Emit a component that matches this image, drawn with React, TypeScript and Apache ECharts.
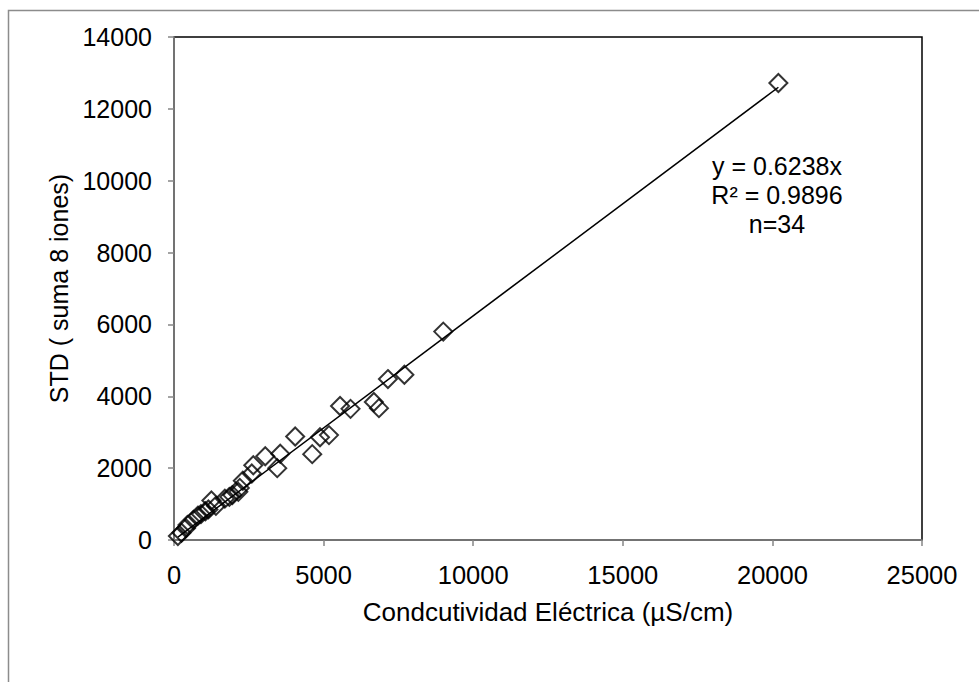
import React, { useEffect, useRef } from "react";
import * as echarts from "echarts";

// Conductividad eléctrica (µS/cm)
const ceValues = [
  20200, 9000, 7700, 7150, 6850, 6680, 5900, 5550, 5180, 4880, 4620, 4050,
  3550, 3450, 3050, 2650, 2600, 2300, 2200, 2150, 1950, 1850, 1700, 1250,
  1400, 1150, 1050, 900, 800, 650, 450, 400, 250, 130,
];
// STD (suma 8 iones)
const stdValues = [
  12720, 5800, 4600, 4480, 3670, 3840, 3650, 3730, 2920, 2860, 2390, 2880,
  2400, 2000, 2330, 2080, 1850, 1650, 1450, 1340, 1250, 1200, 1150, 1100,
  950, 850, 800, 720, 680, 560, 420, 330, 200, 110,
];
// Trendline (regression through origin)
const trendSlope = 0.6238;
const trendRangeX = [130, 20200];
const annotationLines = ["y = 0.6238x", "R² = 0.9896", "n=34"];

const xTicks = { min: 0, max: 25000, interval: 5000 };
const yTicks = { min: 0, max: 14000, interval: 2000 };

const FONT = "'Liberation Sans', Arial, sans-serif";

export default function App() {
  const ref = useRef<HTMLDivElement>(null);
  useEffect(() => {
    if (!ref.current) return;
    const chart = echarts.init(ref.current, null, { renderer: "svg" });
    const points = ceValues.map((x, i) => [x, stdValues[i]]);
    const trend = trendRangeX.map((x) => [x, x * trendSlope]);
    const axisGray = "#868686";
    const fmt = (v: number) => String(v);
    chart.setOption({
      animation: false,
      backgroundColor: "#fff",
      textStyle: { fontFamily: FONT },
      grid: {
        left: 174,
        top: 37,
        right: 57,
        bottom: 142,
        show: true,
        borderColor: "#000",
        borderWidth: 1.5,
        backgroundColor: "transparent",
      },
      xAxis: {
        type: "value",
        min: xTicks.min,
        max: xTicks.max,
        interval: xTicks.interval,
        name: "Condcutividad Eléctrica (µS/cm)",
        nameLocation: "middle",
        nameGap: 59,
        nameTextStyle: { fontSize: 26, color: "#000", fontFamily: FONT },
        axisLine: { show: true, onZero: false, lineStyle: { color: axisGray, width: 1.5 } },
        axisTick: { show: true, inside: false, length: 6, lineStyle: { color: axisGray, width: 1.5 } },
        axisLabel: { fontSize: 25.5, color: "#000", margin: 22, fontFamily: FONT, formatter: fmt },
        splitLine: { show: false },
      },
      yAxis: {
        type: "value",
        min: yTicks.min,
        max: yTicks.max,
        interval: yTicks.interval,
        name: "STD ( suma 8 iones)",
        nameLocation: "middle",
        nameGap: 91,
        nameTextStyle: { fontSize: 25, color: "#000", fontFamily: FONT },
        axisLine: { show: true, onZero: false, lineStyle: { color: axisGray, width: 1.5 } },
        axisTick: { show: true, inside: false, length: 6, lineStyle: { color: axisGray, width: 1.5 } },
        axisLabel: { fontSize: 25, color: "#000", margin: 22, fontFamily: FONT, formatter: fmt },
        splitLine: { show: false },
      },
      series: [
        {
          type: "line",
          data: trend,
          symbol: "none",
          silent: true,
          lineStyle: { color: "#000", width: 1.5 },
          z: 2,
        },
        {
          type: "scatter",
          data: points,
          symbol: "diamond",
          symbolSize: 18,
          itemStyle: { color: "rgba(0,0,0,0)", borderColor: "#000", borderWidth: 2 },
          z: 3,
        },
      ],
      graphic: [
        {
          type: "rect",
          left: 6,
          top: 8,
          shape: { x: 0, y: 0, width: 1200, height: 900 },
          style: { fill: "none", stroke: "#8c8c8c", lineWidth: 1.5 },
          silent: true,
          z: -1,
        },
        ...annotationLines.map((t, i) => ({
          type: "text",
          x: 777,
          y: 166 + i * 29,
          style: {
            text: t,
            fontSize: 25,
            fontFamily: FONT,
            fill: "#000",
            textAlign: "center",
            textVerticalAlign: "middle",
          },
          silent: true,
        })),
      ],
    });
    return () => chart.dispose();
  }, []);
  return (
    <div
      ref={ref}
      style={{ position: "fixed", left: 0, top: 0, width: 979, height: 682 }}
    />
  );
}
